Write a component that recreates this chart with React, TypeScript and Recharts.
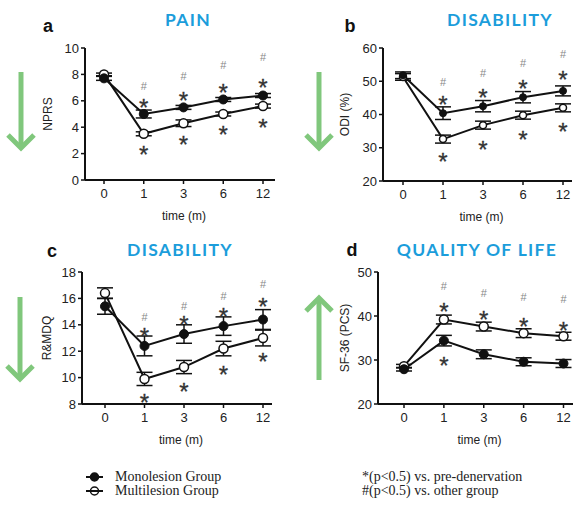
import React from 'react'
import { LineChart, Line, XAxis, YAxis, ErrorBar, Label } from 'recharts'

const months = ['0', '1', '3', '6', '12']

// a - pain (NPRS)
const painMono = [7.7, 5.0, 5.5, 6.1, 6.4]
const painMonoErr = [0.15, 0.3, 0.15, 0.15, 0.15]
const painMulti = [8.0, 3.5, 4.3, 5.0, 5.6]
const painMultiErr = [0.1, 0.15, 0.25, 0.15, 0.15]
const painHash = [null, 7.1, 7.9, 8.7, 9.3]
const painMonoStar = [null, 5.9, 6.4, 7.0, 7.4]
const painMultiStar = [null, 2.3, 3.05, 3.8, 4.35]

// b - disability (ODI %)
const odiMono = [51.8, 40.4, 42.5, 45.2, 47.1]
const odiMonoErr = [1.0, 1.9, 1.7, 1.7, 1.5]
const odiMulti = [51.3, 32.6, 36.8, 39.8, 42.0]
const odiMultiErr = [1.0, 1.2, 1.2, 1.2, 1.2]
const odiHash = [null, 49.7, 52.6, 55.6, 58.3]
const odiMonoStar = [null, 44.6, 46.7, 49.4, 51.9]
const odiMultiStar = [null, 27.3, 31.1, 33.9, 36.4]

// c - disability (R&MDQ)
const rmdqMono = [15.4, 12.4, 13.3, 13.9, 14.4]
const rmdqMonoErr = [0.6, 0.75, 0.7, 0.7, 0.75]
const rmdqMulti = [16.4, 9.9, 10.8, 12.2, 13.0]
const rmdqMultiErr = [0.4, 0.5, 0.5, 0.55, 0.6]
const rmdqHash = [null, 14.6, 15.4, 16.15, 17.1]
const rmdqMonoStar = [null, 13.5, 14.4, 15.0, 15.8]
const rmdqMultiStar = [null, 8.5, 9.3, 10.6, 11.6]

// d - quality of life (SF-36 PCS)
const sfMono = [27.9, 34.4, 31.3, 29.6, 29.2]
const sfMonoErr = [0.4, 1.2, 1.0, 0.9, 0.9]
const sfMulti = [28.6, 39.2, 37.6, 36.1, 35.4]
const sfMultiErr = [0.4, 1.0, 1.0, 1.0, 0.9]
const sfHash = [null, 46.8, 45.2, 44.3, 43.8]
const sfMonoStar = [null, 30.0, null, null, null]
const sfMultiStar = [null, 42.1, 40.4, 38.7, 37.9]

const buildRows = (
  mono: number[], monoErr: number[], multi: number[], multiErr: number[],
  hash: (number | null)[], monoStar: (number | null)[], multiStar: (number | null)[]
) =>
  months.map((m, i) => ({
    month: m,
    mono: mono[i],
    monoErr: monoErr[i],
    multi: multi[i],
    multiErr: multiErr[i],
    hash: hash[i],
    monoStar: monoStar[i],
    multiStar: multiStar[i],
  }))

const SANS = '"Liberation Sans", Arial, sans-serif'
const GREEN = '#80c77c'
const BLUE = '#1b9ddb'

const glyphDot = (kind: 'star' | 'hash') => (props: any) => {
  const { cx, cy, value, index } = props
  if (value == null || cy == null || isNaN(cy)) return <g key={`${kind}-${index}`} />
  if (kind === 'hash') {
    return (
      <text key={`${kind}-${index}`} x={cx} y={cy + 4} textAnchor="middle"
        fontSize={11} fill="#888" stroke="none" fontFamily={SANS}>#</text>
    )
  }
  return (
    <text key={`${kind}-${index}`} x={cx} y={cy + 13.5} textAnchor="middle"
      fontSize={24} fill="#333" stroke="#333" strokeWidth={0.3}
      style={{ fill: '#333' }} fontFamily={SANS}>*</text>
  )
}

interface PanelProps {
  rows: any[]
  domain: [number, number]
  ticks: number[]
  yLabel: string
  left: number
  top: number
  plotLeft: number
  plotTop: number
  plotBottom: number
  plotRight: number
  padL: number
  padR: number
  yLabelOffset: number
  dotR: number
}

function Panel(p: PanelProps) {
  const width = p.plotRight - p.left + 5
  const height = p.plotBottom - p.top + 44
  return (
    <div style={{ position: 'absolute', left: p.left, top: p.top }}>
      <LineChart width={width} height={height} data={p.rows}
        margin={{ top: p.plotTop - p.top, right: 5, left: 0, bottom: 0 }}>
        <XAxis dataKey="month" height={44} padding={{ left: p.padL, right: p.padR }}
          axisLine={{ stroke: '#111', strokeWidth: 2 }} tickLine={{ stroke: '#111', strokeWidth: 1.5 }}
          tickSize={4} tickMargin={5} tick={{ fontSize: 13, fill: '#222', fontFamily: SANS }}>
          <Label value="time (m)" position="insideBottom" offset={4} dx={4}
            style={{ fontSize: 12, fill: '#222', fontFamily: SANS }} />
        </XAxis>
        <YAxis width={p.plotLeft - p.left} domain={p.domain} ticks={p.ticks} interval={0}
          axisLine={{ stroke: '#111', strokeWidth: 2 }} tickLine={{ stroke: '#111', strokeWidth: 1.5 }}
          tickSize={4} tickMargin={2} tick={{ fontSize: 13, fill: '#222', fontFamily: SANS }}>
          <Label value={p.yLabel} angle={-90} position="insideLeft" offset={p.yLabelOffset}
            style={{ textAnchor: 'middle', fontSize: 12, fill: '#222', fontFamily: SANS }} />
        </YAxis>
        <Line dataKey="multi" stroke="#111" strokeWidth={2} isAnimationActive={false}
          dot={{ r: p.dotR, fill: '#fff', stroke: '#111', strokeWidth: 1.5 }} activeDot={false}>
          <ErrorBar dataKey="multiErr" width={8} strokeWidth={1.5} stroke="#111" />
        </Line>
        <Line dataKey="mono" stroke="#111" strokeWidth={2} isAnimationActive={false}
          dot={{ r: p.dotR, fill: '#111', stroke: '#111', strokeWidth: 1 }} activeDot={false}>
          <ErrorBar dataKey="monoErr" width={8} strokeWidth={1.5} stroke="#111" />
        </Line>
        <Line dataKey="hash" stroke="none" isAnimationActive={false} dot={glyphDot('hash')} activeDot={false} legendType="none" />
        <Line dataKey="monoStar" stroke="none" isAnimationActive={false} dot={glyphDot('star')} activeDot={false} legendType="none" />
        <Line dataKey="multiStar" stroke="none" isAnimationActive={false} dot={glyphDot('star')} activeDot={false} legendType="none" />
      </LineChart>
    </div>
  )
}

const Centered = ({ x, y, children, style }: any) => (
  <div style={{ position: 'absolute', left: x, top: y, transform: 'translate(-50%, -50%)',
    lineHeight: 1, whiteSpace: 'nowrap', ...style }}>{children}</div>
)

const Title = ({ x, y, text }: any) => (
  <Centered x={x} y={y} style={{ fontFamily: 'Lato, sans-serif', fontWeight: 700,
    fontSize: 17.5, color: BLUE, letterSpacing: 1.3 }}>{text}</Centered>
)

const Letter = ({ x, y, text }: any) => (
  <Centered x={x} y={y} style={{ fontFamily: SANS, fontWeight: 700, fontSize: 18, color: '#111' }}>{text}</Centered>
)

const Arrow = ({ x, from, to }: any) => {
  const dir = to > from ? 1 : -1
  return (
    <svg style={{ position: 'absolute', left: 0, top: 0 }} width={581} height={507}>
      <line x1={x} y1={from} x2={x} y2={to - dir * 2} stroke={GREEN} strokeWidth={5} />
      <polyline points={`${x - 13},${to - dir * 13} ${x},${to} ${x + 13},${to - dir * 13}`}
        fill="none" stroke={GREEN} strokeWidth={5} strokeLinejoin="miter" />
    </svg>
  )
}

const LegendMarker = ({ filled }: { filled: boolean }) => (
  <svg width={20} height={12} style={{ position: 'absolute', left: -30, top: 0 }}>
    <circle cx={9.5} cy={6} r={4} fill={filled ? '#111' : 'none'} stroke="#111" strokeWidth={1.5} />
    <line x1={1} y1={6} x2={18} y2={6} stroke="#111" strokeWidth={2} />
  </svg>
)

const legendText: React.CSSProperties = {
  position: 'absolute', fontFamily: '"Liberation Serif", "Times New Roman", serif',
  fontSize: 14, color: '#222', lineHeight: '12px', whiteSpace: 'nowrap',
}

export default function App() {
  return (
    <div style={{ position: 'absolute', left: 0, top: 0, width: 581, height: 507, background: '#fff', overflow: 'hidden' }}>
      <Arrow x={21} from={72} to={148} />
      <Arrow x={319} from={72} to={148} />
      <Arrow x={20} from={297} to={379} />
      <Arrow x={319} from={380} to={298} />

      <Panel rows={buildRows(painMono, painMonoErr, painMulti, painMultiErr, painHash, painMonoStar, painMultiStar)}
        domain={[0, 10]} ticks={[0, 2, 4, 6, 8, 10]} yLabel="NPRS" dotR={4.5}
        left={0} top={0} plotLeft={85} plotTop={48} plotBottom={180} plotRight={275} padL={19} padR={12} yLabelOffset={48} />
      <Panel rows={buildRows(odiMono, odiMonoErr, odiMulti, odiMultiErr, odiHash, odiMonoStar, odiMultiStar)}
        domain={[20, 60]} ticks={[20, 30, 40, 50, 60]} yLabel="ODI (%)" dotR={3.5}
        left={290} top={0} plotLeft={383} plotTop={48} plotBottom={181} plotRight={572} padL={20} padR={9} yLabelOffset={55} />
      <Panel rows={buildRows(rmdqMono, rmdqMonoErr, rmdqMulti, rmdqMultiErr, rmdqHash, rmdqMonoStar, rmdqMultiStar)}
        domain={[8, 18]} ticks={[8, 10, 12, 14, 16, 18]} yLabel="R&MDQ" dotR={4.5}
        left={0} top={230} plotLeft={82} plotTop={272} plotBottom={404} plotRight={272} padL={23} padR={9} yLabelOffset={47} />
      <Panel rows={buildRows(sfMono, sfMonoErr, sfMulti, sfMultiErr, sfHash, sfMonoStar, sfMultiStar)}
        domain={[20, 50]} ticks={[20, 30, 40, 50]} yLabel="SF-36 (PCS)" dotR={4.5}
        left={290} top={230} plotLeft={378} plotTop={272} plotBottom={404} plotRight={573} padL={26} padR={9.5} yLabelOffset={55} />

      <Letter x={48} y={26} text="a" />
      <Letter x={350} y={26} text="b" />
      <Letter x={52} y={251} text="c" />
      <Letter x={352} y={250} text="d" />
      <Title x={188} y={20} text="PAIN" />
      <Title x={500} y={20} text="DISABILITY" />
      <Title x={180} y={250} text="DISABILITY" />
      <Title x={477} y={250} text="QUALITY OF LIFE" />

      <div style={{ ...legendText, left: 115, top: 471 }}>
        <LegendMarker filled />Monolesion Group
      </div>
      <div style={{ ...legendText, left: 115, top: 485 }}>
        <LegendMarker filled={false} />Multilesion Group
      </div>
      <div style={{ ...legendText, left: 362, top: 471 }}>*(p&lt;0.5) vs. pre-denervation</div>
      <div style={{ ...legendText, left: 362, top: 485 }}>#(p&lt;0.5) vs. other group</div>
    </div>
  )
}
